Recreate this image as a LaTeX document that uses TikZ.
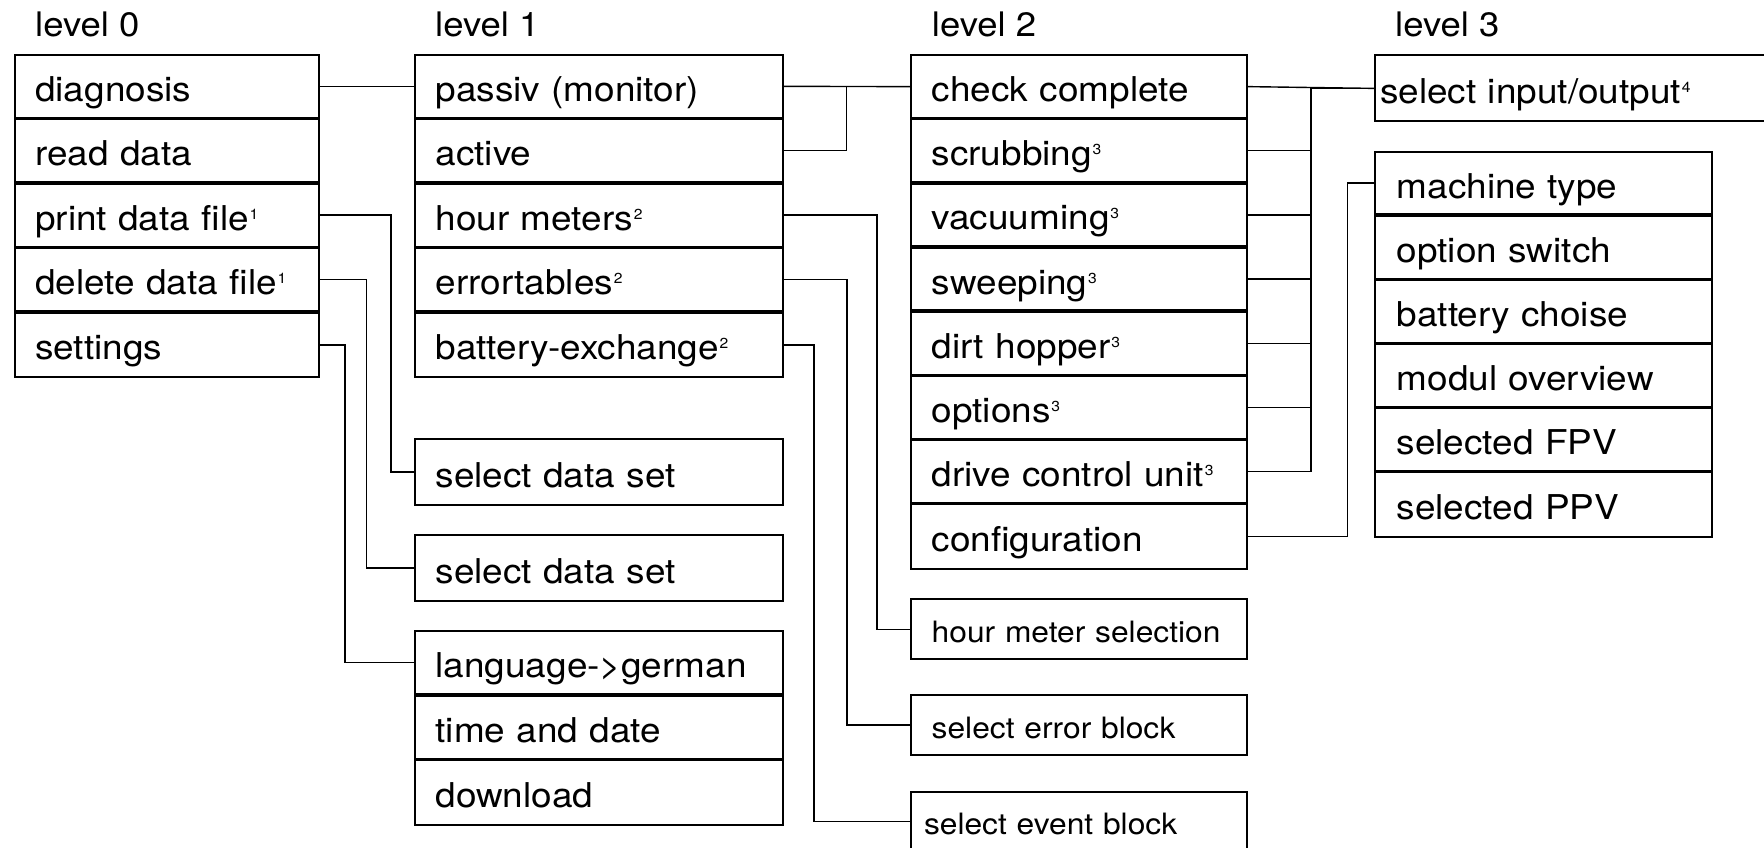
\documentclass[tikz,border=0pt]{standalone}
\usepackage{fontspec}
\setmainfont{TeX Gyre Heros}[FakeStretch=1.08]
\newcommand\ssup[1]{\kern0.8pt\raisebox{11pt}{\fontsize{14.5}{15}\selectfont #1}}
\tikzset{
  base/.style={draw, line width=1.8pt, outer sep=0pt, anchor=north west, inner ysep=0pt,
    text height=30pt, text depth=0pt, align=left, font=\fontsize{34.2}{40}\selectfont},
  col0/.style={base, inner xsep=20.5pt, text width=263.3pt, minimum height=62.7pt},
  col1/.style={base, inner xsep=20.9pt, text width=326.8pt, minimum height=62.7pt},
  col2/.style={base, inner xsep=21pt, text width=294.6pt, minimum height=62.45pt},
  col3/.style={base, inner xsep=21.7pt, text width=293.3pt, minimum height=62.45pt},
  small/.style={base, inner xsep=21pt, text width=294.6pt, minimum height=60pt,
    text height=26pt, font=\fontsize{29.4}{36}\selectfont},
  level/.style={anchor=base west, inner sep=0pt, font=\fontsize{33.8}{40}\selectfont},
  link/.style={line width=1.4pt}
}
\begin{document}
\begin{tikzpicture}[x=1pt,y=-1pt]
\useasboundingbox (0,0) rectangle (1764,848);

% level labels
\node[level] (lab0) at (35,36.9) {level 0};
\node[level] (lab1) at (435,36.9) {level 1};
\node[level] (lab2) at (931.7,36.9) {level 2};
\node[level] (lab3) at (1395,36.9) {level 3};

% level 0
\node[col0] (a1) at (14.7,55) {diagnosis};
\node[col0] (a2) at (14.7,119.4) {read data};
\node[col0] (a3) at (14.7,183.8) {print data file\ssup{1}};
\node[col0] (a4) at (14.7,248.2) {delete data file\ssup{1}};
\node[col0, minimum height=64.4pt] (a5) at (14.7,312.6) {settings};

% level 1
\node[col1] (b1) at (414.7,55) {passiv (monitor)};
\node[col1] (b2) at (414.7,119.4) {active};
\node[col1] (b3) at (414.7,183.8) {hour meters\ssup{2}};
\node[col1] (b4) at (414.7,248.2) {errortables\ssup{2}};
\node[col1, minimum height=64.4pt] (b5) at (414.7,312.6) {battery-exchange\ssup{2}};

\node[col1, minimum height=65.7pt, text height=31pt] (ds1) at (414.7,439.3) {select data set};
\node[col1, minimum height=66pt, text height=31pt] (ds2) at (414.7,535) {select data set};
\node[col1, minimum height=63pt] (la) at (414.7,631) {language->german};
\node[col1, minimum height=63pt] (ti) at (414.7,695.7) {time and date};
\node[col1, minimum height=64.7pt] (dl) at (414.7,760.4) {download};

% level 2
\node[col2] (c1) at (910.7,55.4) {check complete};
\node[col2] (c2) at (910.7,119.55) {scrubbing\ssup{3}};
\node[col2] (c3) at (910.7,183.7) {vacuuming\ssup{3}};
\node[col2] (c4) at (910.7,247.85) {sweeping\ssup{3}};
\node[col2] (c5) at (910.7,312) {dirt hopper\ssup{3}};
\node[col2] (c6) at (910.7,376.15) {options\ssup{3}};
\node[col2] (c7) at (910.7,440.3) {drive control unit\ssup{3}};
\node[col2, minimum height=64.15pt] (c8) at (910.7,504.45) {configuration};

\node[small] (hm) at (910.7,599.3) {hour meter selection};
\node[small] (eb) at (910.7,695) {select error block};
\node[small, inner xsep=13.3pt, text width=310pt] (evb) at (910.7,791.7) {select event block};

% level 3
\node[base, inner xsep=5pt, text width=390pt, minimum height=66pt, text height=31pt] (io) at (1375,55.4) {select input/output\ssup{4}};
\node[col3] (d1) at (1375,151.8) {machine type};
\node[col3] (d2) at (1375,215.95) {option switch};
\node[col3] (d3) at (1375,280.1) {battery choise};
\node[col3] (d4) at (1375,344.25) {modul overview};
\node[col3] (d5) at (1375,408.4) {selected FPV};
\node[col3, minimum height=64.15pt] (d6) at (1375,472.55) {selected PPV};

% connectors level 0 -> level 1
\draw[link] (a1.east) -- (b1.west);
\draw[link] (a3.east) -- ++(71.8,0) |- (ds1.west);
\draw[link] (a4.east) -- ++(47.7,0) |- (ds2.west);
\draw[link] (a5.east) -- ++(25.9,0) |- (la.west);

% level 1 -> level 2
\draw[link] (b1.east) -- (c1.west);
\draw[link] (b2.east) -- ++(63.4,0) |- (c1.west);
\draw[link] (b3.east) -- ++(93.7,0) |- (hm.west);
\draw[link] (b4.east) -- ++(63.7,0) |- (eb.west);
\draw[link] (b5.east) -- ++(30.6,0) |- (evb.west);

% level 2 -> level 3
\draw[link] (c1.east) -- (io.west);
\foreach \r in {c2,c3,c4,c5,c6,c7}
  \draw[link] (\r.east) -- ++(63.7,0) |- (io.west);
\draw[link] (c8.east) -- ++(100.4,0) |- (d1.west);
\end{tikzpicture}
\end{document}
